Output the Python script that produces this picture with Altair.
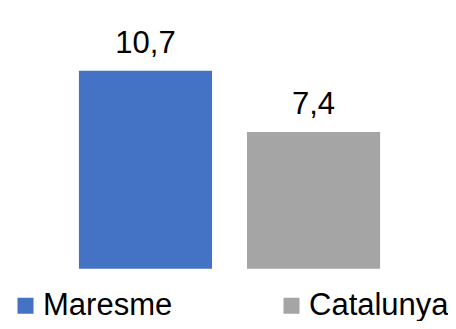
import altair as alt
import pandas as pd

regions = ["Maresme", "Catalunya"]
values = [10.7, 7.4]
colors = ["#4472C4", "#A5A5A5"]

df = pd.DataFrame({
    "region": regions,
    "value": values,
    "label": [f"{v:.1f}".replace(".", ",") for v in values],
})

font = "Liberation Sans"

x = alt.X("region:N", sort=regions, axis=None,
          scale=alt.Scale(paddingInner=0.208, paddingOuter=0.422, range=[0, 443]))
y = alt.Y("value:Q", axis=None,
          scale=alt.Scale(domain=[0, 14.1], nice=False, zero=True, range=[260.7, 0]))

bars = alt.Chart(df).mark_bar().encode(
    x=x, y=y,
    color=alt.Color("region:N", sort=regions,
                    scale=alt.Scale(domain=regions, range=colors),
                    legend=alt.Legend(
                        title=None, orient="none", direction="horizontal",
                        legendX=2, legendY=282, padding=0,
                        symbolType="square", symbolSize=256, symbolStrokeWidth=0,
                        labelFont=font, labelFontSize=31, labelColor="#000000",
                        labelOffset=2, columnPadding=103, labelLimit=400,
                    )),
)

text = alt.Chart(df).mark_text(
    baseline="alphabetic", dy=-17.5, font=font, fontSize=31, color="#000000"
).encode(x=x, y=y, text="label:N")

chart = (bars + text).properties(
    width=440, height=313, padding=0,
    autosize=alt.AutoSizeParams(type="none"),
).configure_view(stroke=None)

chart.save("out.html", embed_options={"renderer": "svg", "actions": False})
